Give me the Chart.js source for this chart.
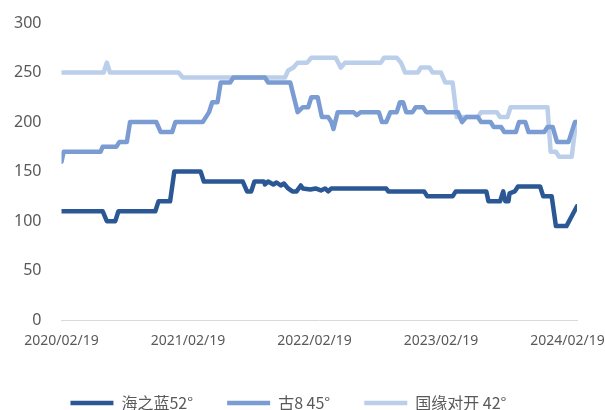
<!DOCTYPE html>
<html>
<head>
<meta charset="utf-8">
<script src="https://cdn.jsdelivr.net/npm/chart.js@4"></script>
<style>
  html, body { margin: 0; padding: 0; background: #fff; }
  #wrap { width: 605px; height: 410px; }
</style>
</head>
<body>
<div id="wrap"><canvas id="chart"></canvas></div>
<script>
// x = months since 2020/02/19
const tickPos = [0, 12, 24, 36, 48];
const tickLabels = ['2020/02/19', '2021/02/19', '2022/02/19', '2023/02/19', '2024/02/19'];
const seriesNames = ['海之蓝52°', '古8 45°', '国缘对开 42°'];

const haiX = [0, 3.9, 4.3, 5.1, 5.4, 8.9, 9.2, 10.3, 10.7, 13.2, 13.5, 17.2, 17.6, 18.0, 18.3, 19.2, 19.3, 19.6,
  20.1, 20.4, 20.8, 21.1, 21.5, 21.9, 22.3, 22.7, 22.9, 23.6, 24.1, 24.6, 25.0, 25.3, 25.6, 30.8, 31.0, 34.4,
  34.7, 37.1, 37.4, 40.3, 40.5, 41.6, 41.9, 42.1, 42.4, 42.5, 43.0, 43.3, 45.4, 45.7, 46.5, 46.9, 47.9, 48.9];
const haiY = [110, 110, 100, 100, 110, 110, 120, 120, 150, 150, 140, 140, 130, 130, 140, 140, 137, 140,
  137, 139, 136, 138, 133, 130, 130, 136, 133, 132, 133, 131, 133, 130, 133, 133, 130, 130,
  125, 125, 130, 130, 120, 120, 130, 120, 120, 128, 130, 135, 135, 125, 125, 95, 95, 115];

const guX = [0, 0.2, 3.7, 3.9, 5.2, 5.5, 6.2, 6.5, 9.0, 9.4, 10.5, 10.8, 13.4, 13.7, 14.0, 14.3, 14.8, 15.1,
  16.0, 16.3, 19.3, 19.6, 21.7, 22.4, 22.9, 23.4, 23.7, 24.3, 24.7, 25.3, 25.6, 25.8, 26.2, 27.7, 28.0, 28.4,
  30.1, 30.4, 30.8, 31.2, 31.8, 32.1, 32.4, 32.7, 33.3, 33.6, 34.3, 34.6, 37.6, 38.0, 38.4, 39.5, 39.8, 40.7,
  41.0, 41.7, 42.0, 43.1, 43.4, 44.0, 44.3, 45.8, 46.1, 46.6, 47.0, 48.1, 48.7, 48.9];
const guY = [160, 170, 170, 175, 175, 180, 180, 200, 200, 190, 190, 200, 200, 205, 210, 220, 220, 240,
  240, 245, 245, 240, 240, 210, 215, 215, 225, 225, 205, 205, 200, 193, 210, 210, 207, 210,
  210, 200, 200, 210, 210, 220, 220, 210, 210, 215, 215, 210, 210, 200, 205, 205, 200, 200,
  195, 195, 190, 190, 200, 200, 190, 190, 195, 195, 180, 180, 200, 200];

const gyX = [0, 4.0, 4.3, 4.6, 11.1, 11.5, 21.2, 21.5, 22.0, 22.4, 23.3, 23.7, 26.0, 26.5, 26.9, 30.3, 30.6,
  31.8, 32.2, 32.6, 33.8, 34.1, 34.9, 35.2, 36.0, 36.4, 37.1, 37.5, 39.5, 39.8, 41.3, 41.6, 42.3, 42.6,
  46.1, 46.4, 46.9, 47.2, 48.4, 48.8, 48.9];
const gyY = [250, 250, 260, 250, 250, 245, 245, 252, 255, 260, 260, 265, 265, 255, 260, 260, 265,
  265, 260, 250, 250, 255, 255, 250, 250, 240, 240, 205, 205, 210, 210, 205, 205, 215,
  215, 170, 170, 165, 165, 200, 200];

const colors = ['#2b5895', '#7b9cd3', '#bccfea'];

function pts(xs, ys) {
  return xs.map((x, i) => ({ x: x, y: ys[i] }));
}

const allX = [haiX, guX, gyX];
const allY = [haiY, guY, gyY];

new Chart(document.getElementById('chart'), {
  type: 'line',
  data: {
    datasets: seriesNames.map((name, i) => ({
      label: name,
      data: pts(allX[i], allY[i]),
      borderColor: colors[i],
      backgroundColor: colors[i],
      borderWidth: 4.5,
      borderCapStyle: 'round',
      borderJoinStyle: 'round',
      pointRadius: 0,
      tension: 0,
      fill: false
    }))
  },
  options: {
    responsive: true,
    maintainAspectRatio: false,
    animation: false,
    layout: { padding: { left: 0, right: 28, top: 23, bottom: -11 } },
    plugins: {
      legend: {
        position: 'bottom',
        labels: {
          usePointStyle: true,
          pointStyle: 'line',
          pointStyleWidth: 43,
          padding: 34,
          color: '#595959',
          font: { family: '"Noto Sans CJK SC", "Noto Sans", sans-serif', size: 16 }
        }
      },
      tooltip: { enabled: false }
    },
    scales: {
      x: {
        type: 'linear',
        min: 0,
        max: 48.9,
        grid: { display: false, drawTicks: false },
        border: { display: true, color: '#d9d9d9', width: 1 },
        afterBuildTicks: s => { s.ticks = tickPos.map(v => ({ value: v })); },
        afterFit: s => { s.paddingLeft = 0; s.paddingRight = 0; },
        ticks: {
          autoSkip: false,
          maxRotation: 0,
          padding: 12,
          color: '#595959',
          font: { family: '"Noto Sans", sans-serif', size: 14 },
          callback: v => tickLabels[tickPos.indexOf(v)]
        }
      },
      y: {
        min: 0,
        max: 300,
        grid: { display: false, drawTicks: false },
        border: { display: false },
        afterFit: s => { s.width = 61.5; s.paddingTop = 0; s.paddingBottom = 0; },
        ticks: {
          stepSize: 50,
          padding: 20,
          color: '#595959',
          font: { family: '"Noto Sans", sans-serif', size: 16 }
        }
      }
    }
  }
});
</script>
</body>
</html>
